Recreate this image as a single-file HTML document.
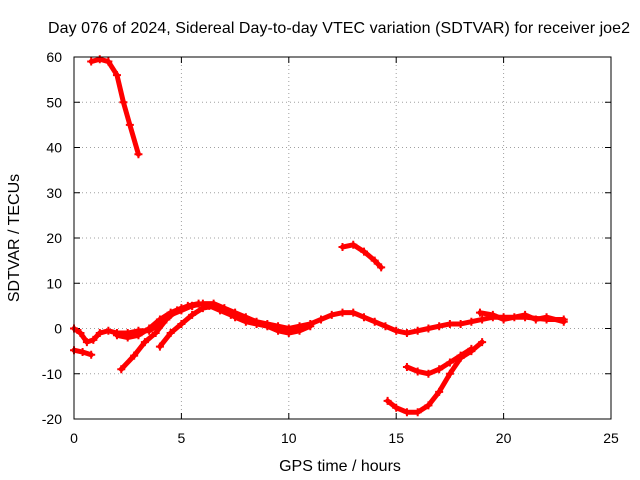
<!DOCTYPE html>
<html><head><meta charset="utf-8"><style>
body{margin:0;background:#fff}
svg{display:block;font-family:"Liberation Sans",sans-serif}
</style></head><body>
<svg id="chart" width="640" height="480">
<text x="339" y="33" font-size="16" text-anchor="middle" textLength="582">Day 076 of 2024, Sidereal Day-to-day VTEC variation (SDTVAR) for receiver joe2</text>
<text x="340" y="471" font-size="16" text-anchor="middle">GPS time / hours</text>
<text transform="translate(19,238) rotate(-90)" font-size="16" text-anchor="middle">SDTVAR / TECUs</text>
<g id="grid"></g><g id="ticks"></g><g id="series"></g>
<rect x="74" y="57" width="537" height="362" fill="none" stroke="#000"/>
</svg>
<script>
const xTicks=[0,5,10,15,20,25];
const yTicks=[-20,-10,0,10,20,30,40,50,60];
const seg1=[[0,-4.8],[0.4,-5.2],[0.8,-5.8]];
const seg2=[[0,0],[0.3,-1],[0.6,-3],[0.9,-2.5],[1.2,-1],[1.6,-0.5],[2,-1],[2.5,-1],[3,-0.5],[3.5,-0.5],[4,1],[4.5,3],[5,4],[5.5,5],[6,5.5],[6.5,5.5],[7,4.5],[7.5,3.5],[8,2.5],[8.5,1.5],[9,1],[9.5,0.5],[10,0],[10.5,0.5],[11,1],[11.5,2],[12,3],[12.5,3.5],[13,3.5],[13.5,2.5],[14,1.5],[14.5,0.5],[15,-0.5],[15.5,-1],[16,-0.5],[16.5,0],[17,0.5],[17.5,1],[18,1],[18.5,1.5],[19,2],[19.5,2.5],[20,2.5],[21,2.5],[22,2],[22.8,2]];
const seg3=[[2.2,-9],[2.8,-6],[3.3,-3],[3.8,-1],[4.3,2],[4.8,4],[5.3,5],[5.8,5.5],[6.3,5],[6.8,4],[7.3,3]];
const seg4=[[4,-4],[4.5,-1],[5,1],[5.5,3],[6,4.5],[6.5,5],[7,4],[7.5,2.5],[8,1.5],[8.5,1],[9,0.5],[9.5,-0.5],[10,-1],[10.5,-0.5],[11,0.5]];
const seg5=[[2,-1.5],[2.5,-2],[3,-1.5],[3.5,0],[4,2],[4.5,3.5],[5,4.5],[5.5,5]];
const seg6=[[18.9,3.5],[19.5,3],[20,2],[20.5,2.5],[21,3],[21.5,2],[22,2.5],[22.8,1.5]];
const seg7=[[0.8,59],[1.2,59.5],[1.6,59],[2,56],[2.3,50],[2.6,45],[3,38.5]];
const seg8=[[12.5,18],[13,18.5],[13.5,17],[14,15],[14.3,13.5]];
const seg9=[[14.6,-16],[15,-17.5],[15.5,-18.5],[16,-18.5],[16.5,-17],[17,-14],[17.5,-10],[18,-6.5],[18.5,-5],[19,-3]];
const seg10=[[15.5,-8.5],[16,-9.5],[16.5,-10],[17,-9],[17.5,-7.5],[18,-6],[18.5,-4.5]];
const segments=[seg1,seg2,seg3,seg4,seg5,seg6,seg7,seg8,seg9,seg10];
const NS="http://www.w3.org/2000/svg";
const X=v=>74+v*(537/25), Y=v=>419-(v+20)*(362/80);
const grid=document.getElementById('grid'),ticks=document.getElementById('ticks'),ser=document.getElementById('series');
function mk(t,a,p){const e=document.createElementNS(NS,t);for(const k in a)e.setAttribute(k,a[k]);p.appendChild(e);return e;}
xTicks.forEach(v=>{
 if(v>0&&v<25){const g=mk('line',{x1:X(v),x2:X(v),y1:57,y2:419,stroke:'#a0a0a0','stroke-dasharray':'1,3'},grid);
 
 }
 mk('line',{x1:X(v),x2:X(v),y1:419,y2:413,stroke:'#000'},ticks);
 mk('line',{x1:X(v),x2:X(v),y1:57,y2:63,stroke:'#000'},ticks);
 const t=mk('text',{x:X(v),y:443,'font-size':14,'text-anchor':'middle'},ticks);t.textContent=v;
 
 
});
yTicks.forEach(v=>{
 if(v>-20&&v<60){const g=mk('line',{x1:74,x2:611,y1:Y(v),y2:Y(v),stroke:'#a0a0a0','stroke-dasharray':'1,3'},grid);
 
 }
 mk('line',{x1:74,x2:80,y1:Y(v),y2:Y(v),stroke:'#000'},ticks);
 mk('line',{x1:611,x2:605,y1:Y(v),y2:Y(v),stroke:'#000'},ticks);
 const t=mk('text',{x:62,y:Y(v)+5,'font-size':14,'text-anchor':'end'},ticks);t.textContent=v;
 
 
});
segments.forEach(s=>{
 const p=mk('polyline',{points:s.map(d=>X(d[0])+','+Y(d[1])).join(' '),fill:'none',stroke:'#f00','stroke-width':5,'stroke-linejoin':'round','stroke-linecap':'round'},ser);
 
 
 s.forEach(d=>{const x=X(d[0]),y=Y(d[1]);
  mk('path',{d:`M${x-4},${y}h8M${x},${y-4}v8`,stroke:'#f00','stroke-width':2},ser);});
});
</script>
</body></html>
